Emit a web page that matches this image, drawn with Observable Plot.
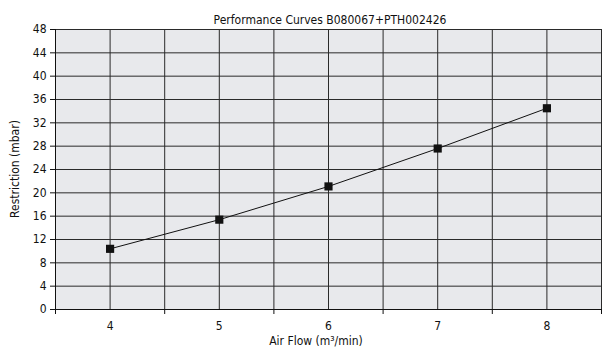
<!DOCTYPE html>
<html><head><meta charset="utf-8">
<script src="https://cdn.jsdelivr.net/npm/d3@7"></script>
<script src="https://cdn.jsdelivr.net/npm/@observablehq/plot@0.6"></script>
<style>
body{margin:0;background:#fff;}
#wrap{position:relative;width:602px;height:351px;font-family:"Liberation Sans Narrow","Arial Narrow","DejaVu Sans Condensed",sans-serif;color:#111;}
.lbl{position:absolute;font-size:12px;white-space:nowrap;line-height:12px;}
</style></head><body>
<div id="wrap">
<div class="lbl" id="title" style="left:330px;top:14px;transform:translateX(-50%);">Performance Curves B080067+PTH002426</div>
<div class="lbl" id="xlab" style="left:316px;top:335px;transform:translateX(-50%);">Air Flow (m³/min)</div>
<div class="lbl" id="ylab" style="left:15px;top:169px;transform:translate(-50%,-50%) rotate(-90deg);">Restriction (mbar)</div>
</div>
<script>
const flows = [4, 5, 6, 7, 8];
const restriction = [10.4, 15.4, 21.1, 27.6, 34.5];
const yTicks = [0, 4, 8, 12, 16, 20, 24, 28, 32, 36, 40, 44, 48];
const xBounds = [3.5, 4.5, 5.5, 6.5, 7.5, 8.5];
const xGrid = [3.5, 4, 4.5, 5, 5.5, 6, 6.5, 7, 7.5, 8, 8.5];

const data = flows.map((f, i) => ({flow: f, r: restriction[i]}));

const chart = Plot.plot({
  width: 602, height: 351,
  marginTop: 29, marginBottom: 42, marginLeft: 55, marginRight: 1,
  style: {fontFamily: '"Liberation Sans Narrow","Arial Narrow","DejaVu Sans Condensed",sans-serif', fontSize: "12px", color: "#111", background: "transparent"},
  x: {domain: [3.5, 8.5], label: null},
  y: {domain: [0, 48], label: null},
  marks: [
    Plot.frame({fill: "#e8e9ec", stroke: "#999"}),
    Plot.gridX(xGrid, {stroke: "#2a2a2a", strokeOpacity: 1}),
    Plot.gridY(yTicks, {stroke: "#2a2a2a", strokeOpacity: 1}),
    Plot.axisY(yTicks, {tickSize: 5, tickPadding: 4, fontSize: 12}),
    Plot.axisX(xBounds, {tickSize: 5, tickFormat: () => ""}),
    Plot.axisX(flows, {tickSize: 0, tickPadding: 12, fontSize: 12}),
    Plot.ruleY([0], {stroke: "#111"}),
    Plot.ruleX([3.5], {stroke: "#111"}),
    Plot.line(data, {x: "flow", y: "r", stroke: "#111", strokeWidth: 1}),
    Plot.dot(data, {x: "flow", y: "r", symbol: "square", r: 4.6, fill: "#111", stroke: "none"})
  ]
});
chart.style.position = "absolute";
chart.style.left = "0";
chart.style.top = "0";
const wrap = document.getElementById("wrap");
wrap.insertBefore(chart, wrap.firstChild);
</script>
</body></html>
